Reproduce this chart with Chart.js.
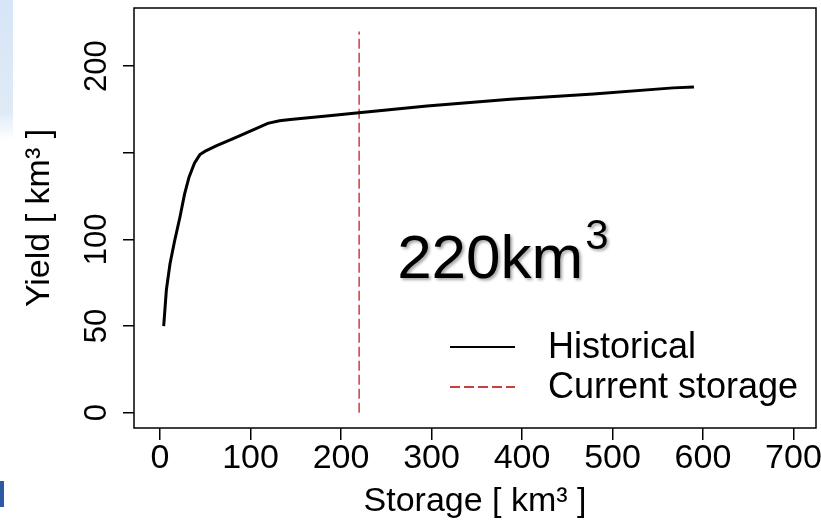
<!DOCTYPE html>
<html>
<head>
<meta charset="utf-8">
<script src="https://cdn.jsdelivr.net/npm/chart.js@4"></script>
<style>
  body { margin: 0; background: #fff; }
  #wrap { position: relative; width: 821px; height: 525px; }
  #strip { position: absolute; left: 0; top: 0; width: 13px; height: 140px;
           background: linear-gradient(#d6e6f6, #dfeaf6 80%, rgba(223,234,246,0)); }
  #logo { position: absolute; left: 0; top: 481px; width: 4px; height: 26px; background: #2a5aa3; }
  canvas { position: absolute; left: 0; top: 0; }
</style>
</head>
<body>
<div id="wrap">
  <div id="strip"></div>
  <div id="logo"></div>
  <canvas id="myChart" width="821" height="525"></canvas>
</div>
<script>
// storage-yield curve
const storage = [4, 7, 11, 16, 22, 27, 32, 38, 44, 50, 62, 84, 106, 119, 132, 144, 184, 217, 295, 387, 479, 567, 590];
const yieldVals = [50, 71, 86, 99, 113, 126, 136, 144, 149, 151, 154, 159, 164, 167, 168.5, 169.3, 171.2, 173, 177, 181, 184, 187.5, 188];

const currentStorage = 220;
const currentLine = [0, 220];

const xTicks = [0, 100, 200, 300, 400, 500, 600, 700];
const yTicks = [0, 50, 100, 150, 200];
const yHidden = [150]; // R dropped this label

const FONT = "'Liberation Sans', Arial, sans-serif";

const framePlugin = {
    id: 'frame',
    afterDatasetsDraw(chart) {
        const a = chart.chartArea;
        const ctx = chart.ctx;
        ctx.save();
        ctx.strokeStyle = '#000';
        ctx.lineWidth = 1.5;
        ctx.strokeRect(a.left, a.top, a.right - a.left, a.bottom - a.top);
        ctx.restore();
    }
};

const legendPlugin = {
    id: 'rLegend',
    afterDraw(chart) {
        const a = chart.chartArea;
        const ctx = chart.ctx;
        const sets = chart.data.datasets;
        const rows = [a.bottom - 81, a.bottom - 41];
        ctx.save();
        ctx.font = '36px ' + FONT;
        ctx.textBaseline = 'middle';
        ctx.fillStyle = '#000';
        sets.forEach((ds, i) => {
            const y = rows[i];
            ctx.beginPath();
            ctx.strokeStyle = ds.borderColor;
            ctx.lineWidth = 2;
            ctx.setLineDash(ds.borderDash || []);
            ctx.moveTo(a.right - 366, y);
            ctx.lineTo(a.right - 301, y);
            ctx.stroke();
            ctx.setLineDash([]);
            ctx.fillText(ds.label, a.right - 268, y + 1);
        });
        ctx.restore();
    }
};

const annotPlugin = {
    id: 'annot',
    afterDraw(chart) {
        const x = chart.scales.x.getPixelForValue(262);
        const y = chart.scales.y.getPixelForValue(78);
        const ctx = chart.ctx;
        ctx.save();
        ctx.fillStyle = '#000';
        ctx.shadowColor = 'rgba(0,0,0,0.35)';
        ctx.shadowOffsetX = 2;
        ctx.shadowOffsetY = 2;
        ctx.shadowBlur = 3;
        ctx.textBaseline = 'alphabetic';
        ctx.font = '62px ' + FONT;
        ctx.fillText('220km', x, y);
        const w = ctx.measureText('220km').width;
        ctx.font = '42px ' + FONT;
        ctx.fillText('3', x + w + 2, y - 29);
        ctx.restore();
    }
};

const ctx = document.getElementById('myChart');
new Chart(ctx, {
    type: 'scatter',
    data: {
        datasets: [{
            label: 'Historical',
            data: storage.map((s, i) => ({ x: s, y: yieldVals[i] })),
            showLine: true,
            borderColor: '#000',
            borderWidth: 3,
            pointRadius: 0,
            tension: 0
        }, {
            label: 'Current storage',
            data: currentLine.map(v => ({ x: currentStorage, y: v })),
            showLine: true,
            borderColor: '#c8413c',
            borderWidth: 1.5,
            borderDash: [10, 4],
            pointRadius: 0
        }]
    },
    options: {
        responsive: false,
        animation: false,
        layout: { padding: { top: 8, right: 5, left: 0, bottom: 0 } },
        plugins: {
            legend: { display: false },
            tooltip: { enabled: false }
        },
        scales: {
            x: {
                type: 'linear',
                min: -28.8,
                max: 724.9,
                afterBuildTicks: s => { s.ticks = xTicks.map(v => ({ value: v })); },
                afterFit: s => { s.height = 97; s.paddingLeft = 0; s.paddingRight = 0; },
                grid: { drawOnChartArea: false, drawTicks: true, tickLength: 12, color: '#000', lineWidth: 1.5 },
                border: { display: false },
                ticks: { font: { family: FONT, size: 34 }, color: '#000', padding: -2, maxRotation: 0, autoSkip: false },
                title: {
                    display: true,
                    text: 'Storage [ km³ ]',
                    color: '#000',
                    font: { family: FONT, size: 34 },
                    padding: { top: 0, bottom: 3 }
                }
            },
            y: {
                type: 'linear',
                min: -8.8,
                max: 233.6,
                afterBuildTicks: s => { s.ticks = yTicks.map(v => ({ value: v })); },
                afterFit: s => { s.width = 134; s.paddingTop = 0; s.paddingBottom = 0; },
                grid: { drawOnChartArea: false, drawTicks: true, tickLength: 11, color: '#000', lineWidth: 1.5 },
                border: { display: false },
                ticks: {
                    font: { family: FONT, size: 31 },
                    color: '#000',
                    padding: 0,
                    minRotation: 90,
                    maxRotation: 90,
                    crossAlign: 'center',
                    autoSkip: false,
                    callback: v => yHidden.includes(v) ? '' : String(v)
                },
                title: {
                    display: true,
                    text: 'Yield [ km³ ]',
                    color: '#000',
                    font: { family: FONT, size: 34 },
                    padding: { top: 19, bottom: 0 }
                }
            }
        }
    },
    plugins: [framePlugin, legendPlugin, annotPlugin]
});
</script>
</body>
</html>
